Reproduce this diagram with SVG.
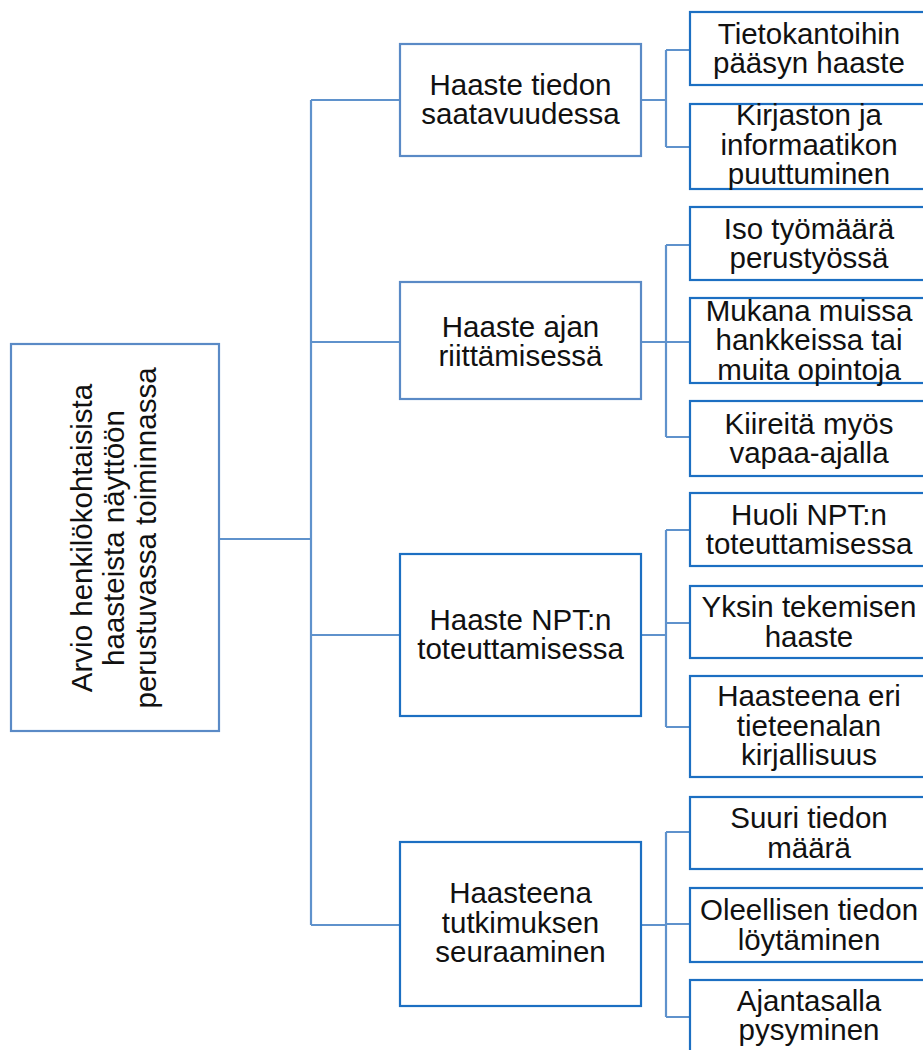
<svg xmlns="http://www.w3.org/2000/svg" width="923" height="1050" viewBox="0 0 923 1050">
<style>
.soft{fill:#fff;stroke:#5a8ac6;stroke-width:2.2}
.deep{fill:#fff;stroke:#1c6fc2;stroke-width:2.2}
.con{fill:none;stroke:#5f92cc;stroke-width:2.2}
text{font-family:"Liberation Sans",Arial,sans-serif;font-size:29.5px;fill:#111;text-anchor:middle}
</style>
<rect width="923" height="1050" fill="#fff"/>
<g id="connectors" class="con">
<path d="M219,539H311M311,100V925M311,100H400M311,342H400M311,635H400M311,925H400"/>
<path d="M641,100H666M666,50V147M666,50H690M666,147H690"/>
<path d="M641,342H666M666,245V437M666,245H690M666,342H690M666,437H690"/>
<path d="M641,635H666M666,530V727M666,530H690M666,623H690M666,727H690"/>
<path d="M641,925H666M666,832V1017M666,832H690M666,924H690M666,1017H690"/>
</g>
<g id="root"><rect class="soft" x="11" y="344" width="208" height="387"/>
<text transform="translate(92,538) rotate(-90)"><tspan x="0" dy="0">Arvio henkilökohtaisista</tspan><tspan x="0" dy="32">haasteista näyttöön</tspan><tspan x="0" dy="32">perustuvassa toiminnassa</tspan></text></g>
<g id="b1"><rect class="soft" x="400" y="44" width="241" height="112"/><text><tspan x="520.5" y="95">Haaste tiedon</tspan><tspan x="520.5" y="124">saatavuudessa</tspan></text></g>
<g id="b2"><rect class="soft" x="400" y="282" width="241" height="117"/><text><tspan x="520.5" y="337">Haaste ajan</tspan><tspan x="520.5" y="366">riittämisessä</tspan></text></g>
<g id="b3"><rect class="deep" x="400" y="554" width="241" height="162"/><text><tspan x="520.5" y="630">Haaste NPT:n</tspan><tspan x="520.5" y="659">toteuttamisessa</tspan></text></g>
<g id="b4"><rect class="deep" x="400" y="842" width="241" height="164"/><text><tspan x="520.5" y="903">Haasteena</tspan><tspan x="520.5" y="932.5">tutkimuksen</tspan><tspan x="520.5" y="962">seuraaminen</tspan></text></g>
<g id="l1a"><rect class="deep" x="690" y="12" width="245" height="73"/><text><tspan x="809" y="44">Tietokantoihin</tspan><tspan x="809" y="73">pääsyn haaste</tspan></text></g>
<g id="l1b"><rect class="deep" x="690" y="104" width="245" height="85"/><text><tspan x="809" y="125">Kirjaston ja</tspan><tspan x="809" y="155">informaatikon</tspan><tspan x="809" y="184">puuttuminen</tspan></text></g>
<g id="l2a"><rect class="deep" x="690" y="207" width="245" height="73"/><text><tspan x="809" y="239">Iso työmäärä</tspan><tspan x="809" y="268">perustyössä</tspan></text></g>
<g id="l2b"><rect class="deep" x="690" y="298" width="245" height="85"/><text><tspan x="809" y="321">Mukana muissa</tspan><tspan x="809" y="350">hankkeissa tai</tspan><tspan x="809" y="380">muita opintoja</tspan></text></g>
<g id="l2c"><rect class="deep" x="690" y="401" width="245" height="75"/><text><tspan x="809" y="434">Kiireitä myös</tspan><tspan x="809" y="463">vapaa-ajalla</tspan></text></g>
<g id="l3a"><rect class="deep" x="690" y="493" width="245" height="73"/><text><tspan x="809" y="525">Huoli NPT:n</tspan><tspan x="809" y="554">toteuttamisessa</tspan></text></g>
<g id="l3b"><rect class="deep" x="690" y="586" width="245" height="72"/><text><tspan x="809" y="617">Yksin tekemisen</tspan><tspan x="809" y="647">haaste</tspan></text></g>
<g id="l3c"><rect class="deep" x="690" y="676" width="245" height="101"/><text><tspan x="809" y="706">Haasteena eri</tspan><tspan x="809" y="736">tieteenalan</tspan><tspan x="809" y="765">kirjallisuus</tspan></text></g>
<g id="l4a"><rect class="deep" x="690" y="797" width="245" height="72"/><text><tspan x="809" y="828">Suuri tiedon</tspan><tspan x="809" y="858">määrä</tspan></text></g>
<g id="l4b"><rect class="deep" x="690" y="888" width="245" height="74"/><text><tspan x="809" y="920">Oleellisen tiedon</tspan><tspan x="809" y="950">löytäminen</tspan></text></g>
<g id="l4c"><rect class="deep" x="690" y="980" width="245" height="73"/><text><tspan x="809" y="1011">Ajantasalla</tspan><tspan x="809" y="1040">pysyminen</tspan></text></g>
</svg>
